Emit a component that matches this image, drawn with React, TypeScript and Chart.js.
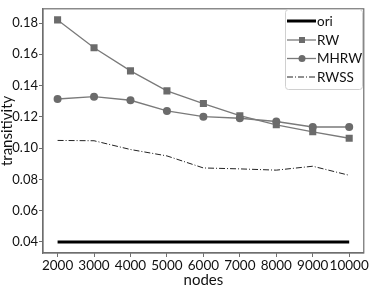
import React, { useEffect, useRef } from "react";
import { Chart, registerables } from "chart.js";

Chart.register(...registerables);

const nodes = [2000, 3000, 4000, 5000, 6000, 7000, 8000, 9000, 10000];
const oriValues = [0.04, 0.04, 0.04, 0.04, 0.04, 0.04, 0.04, 0.04, 0.04];
const rwValues = [0.182, 0.1642, 0.1494, 0.1366, 0.1285, 0.1207, 0.1149, 0.1104, 0.1063];
const mhrwValues = [0.1314, 0.1329, 0.1306, 0.1238, 0.1201, 0.1191, 0.117, 0.1135, 0.1135];
const rwssValues = [0.1049, 0.1047, 0.0991, 0.095, 0.0873, 0.0867, 0.0859, 0.0884, 0.0826];
const xTicks = [2000, 3000, 4000, 5000, 6000, 7000, 8000, 9000, 10000];
const yTicks = [0.04, 0.06, 0.08, 0.1, 0.12, 0.14, 0.16, 0.18];
const seriesLabels = ["ori", "RW", "MHRW", "RWSS"];

const FONT = "Lato";
const GRAY = "#6b6b6b";
const LINEGRAY = "#7a7a7a";

const framePlugin = {
  id: "frame",
  afterDraw(chart: any) {
    const { ctx, chartArea } = chart;
    ctx.save();
    ctx.strokeStyle = "#6e6e6e";
    ctx.lineWidth = 1.2;
    ctx.strokeRect(chartArea.left, chartArea.top, chartArea.right - chartArea.left, chartArea.bottom - chartArea.top);
    ctx.restore();
  },
};

function drawMarker(ctx: CanvasRenderingContext2D, style: string, x: number, y: number) {
  ctx.fillStyle = GRAY;
  if (style === "rect") {
    ctx.fillRect(x - 3, y - 3, 6, 6);
  } else if (style === "circle") {
    ctx.beginPath();
    ctx.arc(x, y, 3.5, 0, Math.PI * 2);
    ctx.fill();
  }
}

const legendPlugin = {
  id: "customLegend",
  afterDraw(chart: any) {
    const { ctx } = chart;
    const bx = 285.5, by = 9.5, bw = 77, bh = 80;
    ctx.save();
    ctx.fillStyle = "rgba(255,255,255,0.9)";
    ctx.strokeStyle = "#d0d0d0";
    ctx.lineWidth = 1;
    ctx.beginPath();
    (ctx as any).roundRect(bx, by, bw, bh, 3);
    ctx.fill();
    ctx.stroke();
    const rows = [21, 40, 58.5, 77];
    chart.data.datasets.forEach((ds: any, i: number) => {
      const y = rows[i];
      ctx.save();
      ctx.strokeStyle = ds.borderColor;
      ctx.lineWidth = ds.borderWidth;
      ctx.setLineDash(ds.borderDash || []);
      ctx.beginPath();
      ctx.moveTo(287, y);
      ctx.lineTo(316, y);
      ctx.stroke();
      ctx.restore();
      if (ds.pointRadius > 0) drawMarker(ctx, ds.pointStyle, 302, y);
      ctx.fillStyle = "#111";
      ctx.font = `13.5px ${FONT}`;
      ctx.textBaseline = "middle";
      ctx.textAlign = "left";
      ctx.fillText(ds.label, 317, y + 0.5);
    });
    ctx.restore();
  },
};

export default function App() {
  const canvasRef = useRef<HTMLCanvasElement | null>(null);

  useEffect(() => {
    if (!canvasRef.current) return;
    const mk = (vals: number[]) => vals.map((v, i) => ({ x: nodes[i], y: v }));
    const chart = new Chart(canvasRef.current, {
      type: "line",
      data: {
        datasets: [
          {
            label: seriesLabels[0],
            data: mk(oriValues),
            borderColor: "#000",
            borderWidth: 3,
            pointRadius: 0,
            pointStyle: "line",
          },
          {
            label: seriesLabels[1],
            data: mk(rwValues),
            borderColor: LINEGRAY,
            borderWidth: 1.3,
            pointStyle: "rect",
            pointRadius: 5,
            pointBackgroundColor: GRAY,
            pointBorderColor: GRAY,
            pointBorderWidth: 0,
          },
          {
            label: seriesLabels[2],
            data: mk(mhrwValues),
            borderColor: LINEGRAY,
            borderWidth: 1.3,
            pointStyle: "circle",
            pointRadius: 4,
            pointBackgroundColor: GRAY,
            pointBorderColor: GRAY,
            pointBorderWidth: 0,
          },
          {
            label: seriesLabels[3],
            data: mk(rwssValues),
            borderColor: "#222",
            borderWidth: 1,
            borderDash: [6, 2, 1, 2],
            pointRadius: 0,
            pointStyle: "line",
          },
        ],
      },
      options: {
        animation: false,
        responsive: true,
        maintainAspectRatio: false,
        layout: { padding: { top: 2, right: 2, left: 0, bottom: 0 } },
        plugins: { legend: { display: false }, tooltip: { enabled: false } },
        scales: {
          x: {
            type: "linear",
            min: 1600,
            max: 10400,
            afterBuildTicks: (scale: any) => {
              scale.ticks = xTicks.map((v) => ({ value: v }));
            },
            afterFit: (scale: any) => {
              scale.height = 33;
            },
            grid: { drawOnChartArea: false, drawTicks: true, tickLength: 4, color: "#6e6e6e", lineWidth: 1 },
            border: { display: true, color: "#6e6e6e", width: 1.2 },
            ticks: {
              color: "#111",
              font: { family: FONT, size: 13.5 },
              padding: 1,
              maxRotation: 0,
              autoSkip: false,
              callback: (v: any) => String(v),
            },
            title: {
              display: true,
              text: "nodes",
              color: "#111",
              font: { family: FONT, size: 15 },
              padding: { top: 0, bottom: -3 },
            },
          },
          y: {
            type: "linear",
            min: 0.0329,
            max: 0.1891,
            afterBuildTicks: (scale: any) => {
              scale.ticks = yTicks.map((v) => ({ value: v }));
            },
            afterFit: (scale: any) => {
              scale.width = 43;
            },
            grid: { drawOnChartArea: false, drawTicks: true, tickLength: 4, color: "#6e6e6e", lineWidth: 1 },
            border: { display: true, color: "#6e6e6e", width: 1.2 },
            ticks: {
              color: "#111",
              font: { family: FONT, size: 13 },
              padding: 1,
              autoSkip: false,
              callback: (v: any) => Number(v).toFixed(2),
            },
            title: {
              display: true,
              text: "transitivity",
              color: "#111",
              font: { family: FONT, size: 15 },
              padding: { top: -2, bottom: 0 },
            },
          },
        },
      },
      plugins: [framePlugin, legendPlugin],
    });
    return () => chart.destroy();
  }, []);

  return (
    <div style={{ position: "fixed", left: 0, top: 0, width: 370, height: 286, background: "#fff" }}>
      <canvas ref={canvasRef} />
    </div>
  );
}
